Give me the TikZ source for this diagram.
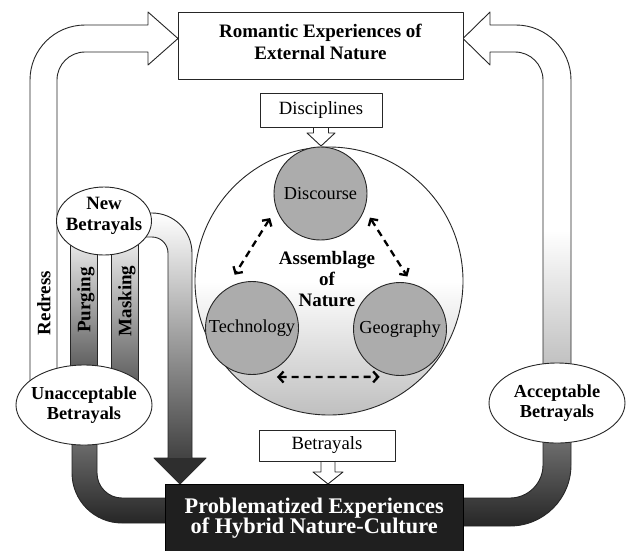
\documentclass[tikz,border=0pt]{standalone}
\usepackage{fontspec}
\setmainfont{Liberation Serif}
\usetikzlibrary{arrows.meta,calc,shapes.geometric}
\begin{document}
\begin{tikzpicture}[x=1pt,y=-1pt,line join=round,
  ol/.style={draw=black!85,line width=0.9pt},
  bigb/.style={font=\bfseries\fontsize{18.8}{20.5}\selectfont,align=center},
  topb/.style={font=\bfseries\fontsize{19}{22}\selectfont,align=center},
  midb/.style={font=\bfseries\fontsize{18.3}{19.5}\selectfont,align=center},
  rotb/.style={font=\bfseries\fontsize{19}{20}\selectfont,rotate=90,inner sep=0pt},
  reg/.style={font=\fontsize{18.3}{21}\selectfont},
  ell/.style={ol,ellipse,fill=white,inner sep=0pt},
  smallc/.style={ol,circle,fill=gray!65,minimum size=93pt,inner sep=0pt},
  dasharr/.style={line width=2.3pt,dash pattern=on 7pt off 5pt,
     {Straight Barb[length=5pt,width=11pt]}-{Straight Barb[length=5pt,width=11pt]}},
]
\useasboundingbox (0,0) rectangle (631,550);
\clip (0,0) rectangle (631,550);

% left white arrow (Redress)
\draw[ol,fill=white] (30,395) -- (30,80) arc[start angle=180,end angle=90,radius=55pt]
  -- (148,25) -- (148,12) -- (178,38.5) -- (148,65) -- (148,52) -- (85,52)
  arc[start angle=90,end angle=180,radius=28pt] -- (57,395) -- cycle;

% right white arrow with gradient
\fill[white] (571,395) -- (571,80) arc[start angle=0,end angle=90,radius=55pt]
  -- (490,25) -- (490,12) -- (463,38.5) -- (490,65) -- (490,52) -- (515,52)
  arc[start angle=90,end angle=0,radius=28pt] -- (543,395) -- cycle;
\shade[top color=white,bottom color=gray!60] (543,230) rectangle (571,395);
\draw[ol] (571,395) -- (571,80) arc[start angle=0,end angle=90,radius=55pt]
  -- (490,25) -- (490,12) -- (463,38.5) -- (490,65) -- (490,52) -- (515,52)
  arc[start angle=90,end angle=0,radius=28pt] -- (543,395);

% dark bars to the bottom box
\shade[ol,top color=black!50,bottom color=black!85] (72,420) -- (72,473)
  arc[start angle=180,end angle=270,radius=50pt] -- (170,523) -- (170,498) -- (122,498)
  arc[start angle=270,end angle=180,radius=25pt] -- (97,420) -- cycle;
\shade[ol,top color=black!50,bottom color=black!85] (543,420) -- (543,465)
  arc[start angle=0,end angle=-90,radius=33pt] -- (460,498) -- (460,526) -- (510,526)
  arc[start angle=-90,end angle=0,radius=61pt] -- (571,420) -- cycle;

% purging / masking bars
\shade[ol,top color=gray!15,bottom color=black!65] (70,240) rectangle (97,372);
\shade[ol,top color=gray!15,bottom color=black!65] (111,240) rectangle (138,388);

% New Betrayals arrow
\shade[ol,top color=white,bottom color=black!82] (140,213) -- (152,213)
  arc[start angle=90,end angle=0,radius=40pt] -- (192,458) -- (206,458) -- (180,484)
  -- (154,458) -- (168,458) -- (168,253) arc[start angle=0,end angle=90,radius=16pt]
  -- (140,237) -- cycle;

% rotated labels
\node[rotb] (redress) at (44,303) {Redress};
\node[rotb] (purging) at (86,300) {Purging};
\node[rotb] (masking) at (127,301) {Masking};

% ellipses
\node[ell,minimum width=95pt,minimum height=68pt,
  label={[bigb,yshift=5pt]center:New\\Betrayals}] (newb) at (104,221) {};
\node[ell,minimum width=136pt,minimum height=80pt,
  label={[midb]center:Unacceptable\\Betrayals}] (unacc) at (84,405) {};
\node[ell,minimum width=136pt,minimum height=80pt,
  label={[midb]center:Acceptable\\Betrayals}] (acc) at (557,403) {};

% assemblage circle
\node[ol,circle,minimum size=268pt,inner sep=0pt,top color=white,bottom color=gray!50,
  middle color=white] (asm) at (329,281) {};
\node[font=\bfseries\fontsize{19}{21}\selectfont,align=center] (asmtext) at (327,279)
  {Assemblage\\of\\Nature};
\node[smallc,label={[reg]center:Discourse}] (disc) at (320.5,193.5) {};
\node[smallc,label={[reg]center:Technology}] (tech) at (252,328) {};
\node[smallc,label={[reg]center:Geography}] (geo) at (400,329) {};

\draw[dasharr] ($(disc)+(206:56pt)$) -- ($(tech)+(108:56pt)$);
\draw[dasharr] ($(disc)+(-26:55pt)$) -- ($(geo)+(82:53pt)$);
\draw[dasharr] ($(tech)+(-63:55pt)$) -- ($(geo)+(-113:52pt)$);

% top box
\node[ol,fill=white,minimum width=285pt,minimum height=67pt,
  label={[topb,yshift=4pt]center:Romantic Experiences of\\External Nature}] (rom) at (320.5,45.5) {};

% Disciplines box and arrow
\draw[ol,fill=white] (313.5,124) -- (313.5,133) -- (307,133) -- (321,146) -- (335,133)
  -- (328.5,133) -- (328.5,124);
\node[ol,fill=white,minimum width=122pt,minimum height=34pt,font=\fontsize{18.7}{21}\selectfont]
  (discip) at (321,110) {Disciplines};

% bottom box
\node[fill=black!88,draw=black,minimum width=298pt,minimum height=68pt,anchor=north west,
  inner sep=0pt,text=white,font=\bfseries\fontsize{22.3}{20.5}\selectfont,align=center]
  (prob) at (165,484) {Problematized Experiences\\of Hybrid Nature-Culture};

% Betrayals box and arrow
\draw[ol,fill=white] (321,458) -- (321,472) -- (313,472) -- (328,484) -- (343,472)
  -- (335,472) -- (335,458);
\node[ol,fill=white,minimum width=136pt,minimum height=31pt,font=\fontsize{18.7}{21}\selectfont]
  (betr) at (327,445.5) {Betrayals};

% redraw tip of New Betrayals arrow on top of box edge
\fill[black!82] (206,458) -- (180,484) -- (154,458) -- cycle;
\end{tikzpicture}
\end{document}
